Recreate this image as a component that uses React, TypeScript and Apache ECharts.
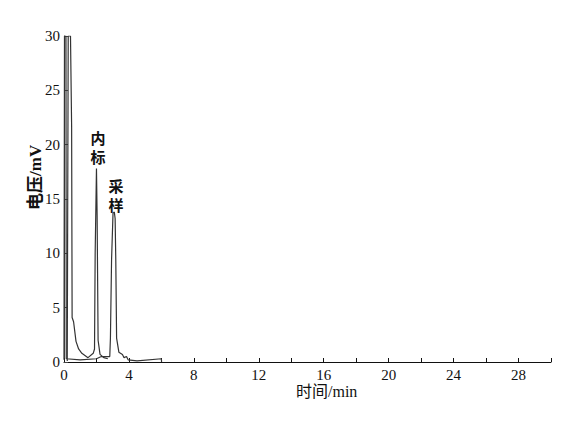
import React, { useEffect, useRef } from "react";
import * as echarts from "echarts";

// Chromatogram traces: [time (min), voltage (mV)]
const standardRun: number[][] = [
  [0.2, 0.1], [0.26, 30], [0.4, 30], [0.47, 21.7], [0.5, 4.1], [0.59, 3.7],
  [0.74, 1.9], [0.9, 1.2], [1.1, 0.8], [1.48, 0.4], [1.8, 0.8], [1.88, 1.2],
  [1.92, 10.0], [2.0, 17.8], [2.04, 13.5], [2.1, 2.0], [2.22, 0.7],
  [2.45, 0.4], [2.7, 0.3],
];

const sampleRun: number[][] = [
  [0, 0.2], [0.03, 30], [0.12, 30], [0.14, 0.3], [1.0, 0.2], [2.0, 0.3],
  [2.3, 0.5], [2.82, 0.5], [2.86, 2.2], [2.93, 9.4], [3.02, 13.7],
  [3.1, 13.8], [3.15, 13.2], [3.19, 9.4], [3.24, 2.2], [3.38, 0.9],
  [3.6, 0.7], [3.7, 0.4], [3.85, 0.5], [3.95, 0.2], [4.5, 0.1],
  [6.0, 0.3], [6.01, 0],
];

const peakLabels = ["内\n标", "采\n样"];
const peakLabelPos: number[][] = [
  [2.1, 19.8],
  [3.2, 15.4],
];

const X_MIN = 0, X_MAX = 30, X_STEP = 2, X_LABEL_STEP = 4;
const Y_MIN = 0, Y_MAX = 30, Y_STEP = 5;

const serif = "'Liberation Serif', 'Noto Sans CJK SC', serif";

const peakLabel = (text: string) => ({
  show: true,
  formatter: text,
  color: "#111",
  fontFamily: "'Noto Sans CJK SC'",
  fontWeight: "bold",
  fontSize: 15,
  lineHeight: 19,
});

export default function App() {
  const ref = useRef<HTMLDivElement>(null);
  useEffect(() => {
    if (!ref.current) return;
    const chart = echarts.init(ref.current, null, { renderer: "svg" });
    const lineStyle = { color: "#333", width: 1.2 };
    chart.setOption({
      animation: false,
      backgroundColor: "#fff",
      grid: { left: 64, top: 36, width: 487, height: 326 },
      xAxis: {
        type: "value",
        min: X_MIN,
        max: X_MAX,
        interval: X_STEP,
        axisLine: { lineStyle: { color: "#111", width: 1 } },
        axisTick: { inside: true, length: 4, lineStyle: { color: "#111" } },
        splitLine: { show: false },
        axisLabel: {
          color: "#111",
          fontFamily: serif,
          fontSize: 15,
          margin: 5,
          formatter: (v: number) => (v % X_LABEL_STEP === 0 ? String(v) : ""),
        },
      },
      yAxis: {
        type: "value",
        min: Y_MIN,
        max: Y_MAX,
        interval: Y_STEP,
        axisLine: { show: true, lineStyle: { color: "#444", width: 1 } },
        axisTick: { show: true, inside: true, length: 4, lineStyle: { color: "#444" } },
        splitLine: { show: false },
        axisLabel: { color: "#111", fontFamily: serif, fontSize: 15, margin: 4 },
      },
      graphic: [
        {
          type: "text",
          left: 296,
          top: 383,
          style: { text: "时间/min", font: `16px ${serif}`, fill: "#111" },
        },
        {
          type: "text",
          x: 27,
          y: 210,
          rotation: Math.PI / 2,
          style: { text: "电压/mV", font: `bold 17px ${serif}`, fill: "#111" },
        },
      ],
      series: [
        {
          type: "line",
          data: standardRun,
          symbol: "none",
          lineStyle,
          markPoint: {
            symbol: "circle",
            symbolSize: 0,
            data: [{ coord: peakLabelPos[0], label: peakLabel(peakLabels[0]) }],
          },
        },
        {
          type: "line",
          data: sampleRun,
          symbol: "none",
          lineStyle,
          markPoint: {
            symbol: "circle",
            symbolSize: 0,
            data: [{ coord: peakLabelPos[1], label: peakLabel(peakLabels[1]) }],
          },
        },
      ],
    });
    return () => chart.dispose();
  }, []);
  return (
    <div
      ref={ref}
      style={{ position: "fixed", left: 0, top: 0, width: 572, height: 441 }}
    />
  );
}
